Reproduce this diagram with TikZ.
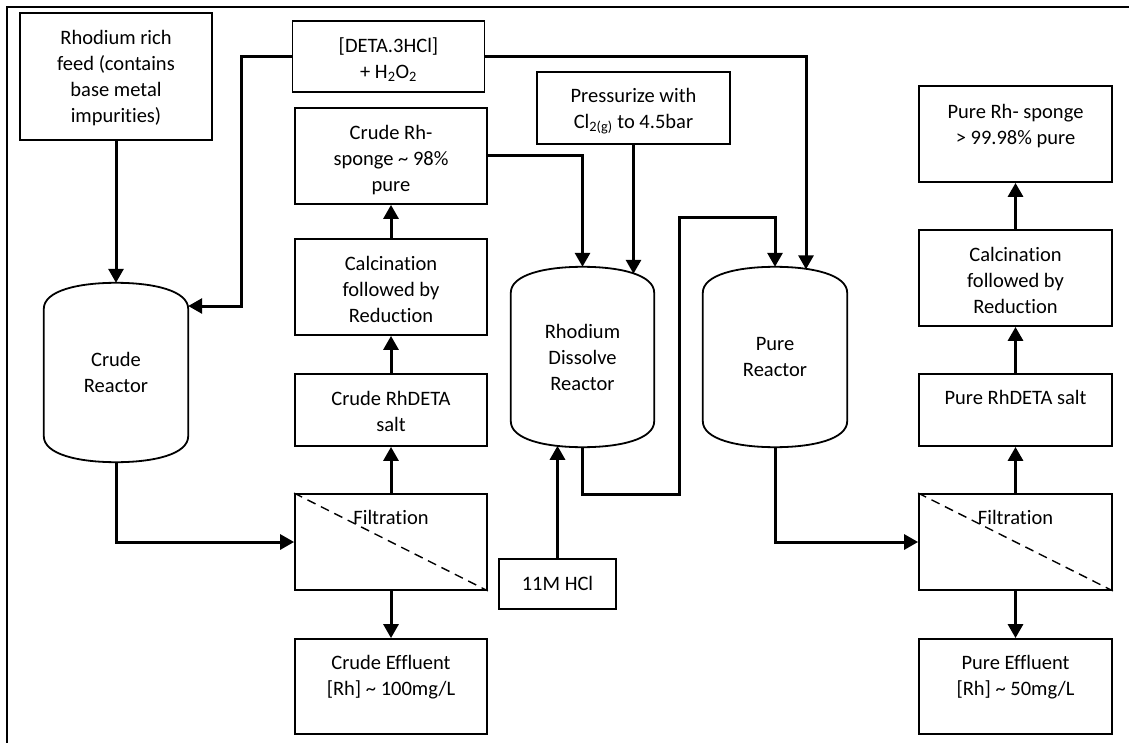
\documentclass[tikz,border=0pt]{standalone}
\usepackage{fontspec}
\setmainfont[Ligatures=NoCommon]{Carlito}
\usetikzlibrary{arrows.meta,calc}
\newcommand{\fsz}{\fontsize{20.5}{26}\selectfont}
\newcommand{\drawvessel}[1]{%
  \draw[vessel] ($(#1.north west)+(0,26)$) -- ($(#1.south west)+(0,-26)$)
    .. controls ($(#1.south west)+(0,-8)$) and ($(#1.south)+(-38,0)$) .. (#1.south)
    .. controls ($(#1.south)+(38,0)$) and ($(#1.south east)+(0,-8)$) .. ($(#1.south east)+(0,-26)$)
    -- ($(#1.north east)+(0,26)$)
    .. controls ($(#1.north east)+(0,8)$) and ($(#1.north)+(38,0)$) .. (#1.north)
    .. controls ($(#1.north)+(-38,0)$) and ($(#1.north west)+(0,8)$) .. ($(#1.north west)+(0,26)$)
    -- cycle;}
\begin{document}
\begin{tikzpicture}[x=1pt,y=-1pt,
  box/.style={draw, line width=1.8pt, inner sep=0pt},
  txt/.style={anchor=north, inner sep=0pt, align=center, font=\fsz},
  vesselnode/.style={inner sep=0pt, align=center, font=\fsz},
  vessel/.style={line width=1.8pt, line join=round},
  conn/.style={line width=3pt, -{Triangle[width=15pt,length=14pt]}},
  filterline/.style={line width=1.4pt, dash pattern=on 9pt off 6pt},
  frame/.style={line width=2pt}]

\useasboundingbox (0,0) rectangle (1129,743);
\draw[frame] (6.7,743) -- (6.7,6.7) -- (1129,6.7);

% boxes
\node[box, minimum width=192pt, minimum height=127pt] (feed) at (116,76.5) {};
\node[box, minimum width=192pt, minimum height=71pt] (deta) at (388.5,56.5) {};
\node[box, minimum width=192pt, minimum height=96pt] (sponge1) at (391,156) {};
\node[box, minimum width=192pt, minimum height=96pt] (calc1) at (391,287) {};
\node[box, minimum width=192pt, minimum height=72pt] (salt1) at (391,410) {};
\node[box, minimum width=192pt, minimum height=96pt] (filt1) at (391,542) {};
\node[box, minimum width=192pt, minimum height=95pt] (eff1) at (391,686.5) {};
\node[box, minimum width=193pt, minimum height=72pt] (press) at (633.5,108) {};
\node[box, minimum width=117pt, minimum height=50pt] (hcl) at (557.5,584) {};
\node[box, minimum width=193pt, minimum height=96pt] (sponge2) at (1015.5,134) {};
\node[box, minimum width=193pt, minimum height=96pt] (calc2) at (1015.5,278) {};
\node[box, minimum width=193pt, minimum height=72pt] (salt2) at (1015.5,410) {};
\node[box, minimum width=193pt, minimum height=96pt] (filt2) at (1015.5,542) {};
\node[box, minimum width=193pt, minimum height=95pt] (eff2) at (1015.5,686.5) {};

% filter lines
\draw[filterline] (filt1.north west) -- (filt1.south east);
\draw[filterline] (filt2.north west) -- (filt2.south east);

% texts
\node[txt] (feedT) at ($(feed.north)+(0,14)$) {\strut Rhodium rich\\feed (contains\\base metal\\impurities)};
\node[txt] (detaT) at ($(deta.north)+(0,14)$) {\strut [DETA.3HCl]\\+ H\textsubscript{2}O\textsubscript{2}};
\node[txt] (sponge1T) at ($(sponge1.north)+(0,14)$) {\strut Crude Rh-\\sponge \textasciitilde{} 98\%\\pure};
\node[txt] (calc1T) at ($(calc1.north)+(0,14)$) {\strut Calcination\\followed by\\Reduction};
\node[txt] (salt1T) at ($(salt1.north)+(0,14)$) {\strut Crude RhDETA\\salt};
\node[txt] (filt1T) at ($(filt1.north)+(0,13)$) {\strut Filtration};
\node[txt] (eff1T) at ($(eff1.north)+(0,13)$) {\strut Crude Effluent\\{[Rh]} \textasciitilde{} 100mg/L};
\node[txt] (pressT) at ($(press.north)+(0,13)$) {\strut Pressurize with\\Cl\textsubscript{2(g)} to 4.5bar};
\node[txt] (hclT) at ($(hcl.north)+(0,14)$) {\strut 11M HCl};
\node[txt] (sponge2T) at ($(sponge2.north)+(0,15)$) {\strut Pure Rh- sponge\\> 99.98\% pure};
\node[txt] (calc2T) at ($(calc2.north)+(0,14)$) {\strut Calcination\\followed by\\Reduction};
\node[txt] (salt2T) at ($(salt2.north)+(0,13)$) {\strut Pure RhDETA salt};
\node[txt] (filt2T) at ($(filt2.north)+(0,13)$) {\strut Filtration};
\node[txt] (eff2T) at ($(eff2.north)+(0,13)$) {\strut Pure Effluent\\{[Rh]} \textasciitilde{} 50mg/L};

% reactors
\node[vesselnode, minimum width=144pt, minimum height=179pt] (crude) at (116,372.5) {Crude\\Reactor};
\node[vesselnode, minimum width=143pt, minimum height=180pt] (dissolve) at (582.5,357) {Rhodium\\Dissolve\\Reactor};
\node[vesselnode, minimum width=144pt, minimum height=180pt] (pure) at (775,357) {Pure\\Reactor};
\drawvessel{crude}
\drawvessel{dissolve}
\drawvessel{pure}

% connectors
\draw[conn] (feed.south) -- (crude.north);
\draw[conn] (deta.west) -- (241,56.5) -- (241,306) -- (crude.east |- 0,306);
\draw[conn] (deta.east) -| ($(pure.north)+(31,2.5)$);
\draw[conn] (sponge1.east) -| (dissolve.north);
\draw[conn] (press.south) -- ($(press.south |- dissolve.north)+(0,7)$);
\draw[conn] (hcl.north) -- ($(hcl.north |- dissolve.south)+(0,-1.4)$);
\draw[conn] (dissolve.south) -- (dissolve.south |- 0,494) -- (679,494) -- (679,218) -| (pure.north);
\draw[conn] (crude.south) |- (filt1.west);
\draw[conn] (pure.south) |- (filt2.west);
\draw[conn] (filt1.north) -- (salt1.south);
\draw[conn] (salt1.north) -- (calc1.south);
\draw[conn] (calc1.north) -- (sponge1.south);
\draw[conn] (filt1.south) -- (eff1.north);
\draw[conn] (filt2.north) -- (salt2.south);
\draw[conn] (salt2.north) -- (calc2.south);
\draw[conn] (calc2.north) -- (sponge2.south);
\draw[conn] (filt2.south) -- (eff2.north);
\end{tikzpicture}
\end{document}
